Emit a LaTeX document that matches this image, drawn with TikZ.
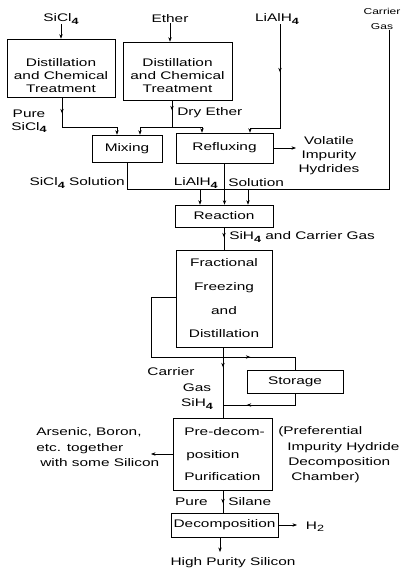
\documentclass[tikz,border=0pt]{standalone}
\usepackage{fontspec}
\setmainfont{Liberation Sans}[FakeStretch=1.4]
\usetikzlibrary{arrows.meta,decorations.markings}
\newcommand{\sfour}{\raisebox{-0.35ex}{\fontsize{9}{9}\selectfont\bfseries 4}}
\newcommand{\stwo}{\raisebox{-0.35ex}{\fontsize{9}{9}\selectfont 2}}
\begin{document}
\begin{tikzpicture}[x=1pt,y=-1pt,
  font=\fontsize{11}{13}\selectfont, line width=0.6pt,
  box/.style={draw, rectangle, inner sep=0pt},
  txt/.style={inner sep=0pt, align=center},
  arr/.style={-{Stealth[length=4.5pt,width=3.4pt]}},
  midarr/.style={postaction={decorate}, decoration={markings,
     mark=at position #1 with {\arrow{Stealth[length=4.5pt,width=3.4pt]}}}}]
\useasboundingbox (0,0) rectangle (413,576);

% top inputs
\node[txt] (sicl) at (61,19) {SiCl\sfour};
\node[txt] (ether) at (170,19) {Ether};
\node[txt] (lial) at (277,19) {LiAlH\sfour};
\node[txt, font=\fontsize{8.6}{15}\selectfont] (cgas) at (382,19) {Carrier\\Gas};

% boxes
\node[box, minimum width=108pt, minimum height=58pt] (b1) at (61,68) {};
\node[txt] (b1t) at (61,76) {Distillation\\and Chemical\\Treatment};
\node[box, minimum width=109pt, minimum height=58pt] (b2) at (177.5,71) {};
\node[txt] (b2t) at (177.5,76) {Distillation\\and Chemical\\Treatment};
\node[box, minimum width=70pt, minimum height=27pt] (mix) at (127,148.5) {Mixing};
\node[box, minimum width=97pt, minimum height=30pt] (refl) at (224.5,148) {Refluxing};
\node[box, minimum width=98pt, minimum height=22pt] (reac) at (224,216) {Reaction};
\node[box, minimum width=96pt, minimum height=97pt] (frac) at (224,298.5) {};
\node[txt, font=\fontsize{11}{23.7}\selectfont] (fract) at (224,298.5) {Fractional\\Freezing\\and\\Distillation};
\node[box, minimum width=96pt, minimum height=23pt] (stor) at (295,381.5) {Storage};
\node[box, minimum width=99pt, minimum height=72pt] (pre) at (222.5,454) {};
\node[txt, align=left, anchor=west, font=\fontsize{11}{22.5}\selectfont] (pret) at (184,454.5) {Pre-decom-\\\hspace{2pt}position\\Purification};
\node[box, minimum width=107pt, minimum height=24pt] (dec) at (224.5,525) {Decomposition};

% labels
\node[txt] (puresicl) at (29,121.5) {Pure\\SiCl\sfour};
\node[txt, anchor=west] (dry) at (177,113) {Dry Ether};
\node[txt, font=\fontsize{11}{14}\selectfont] (vol) at (329,156) {Volatile\\Impurity\\Hydrides};
\node[txt, anchor=east] (sols) at (125,183) {SiCl\sfour{} Solution};
\node[txt, anchor=east] (soll) at (218,183) {LiAlH\sfour};
\node[txt, anchor=west] (solr) at (228,183) {Solution};
\node[txt, anchor=west] (sih) at (229,237) {SiH\sfour{} and Carrier Gas};
\node[txt] (carr) at (171,372) {Carrier};
\node[txt] (gas) at (197,388) {Gas};
\node[txt] (sih2) at (197,404) {SiH\sfour};
\node[txt, align=left, anchor=west, font=\fontsize{11}{15.5}\selectfont] (ars) at (36,447.5) {Arsenic, Boron,\\etc. together\\\hspace{4pt}with some Silicon};
\node[txt, align=left, anchor=west, font=\fontsize{11}{15.3}\selectfont] (prefl) at (278,455) {(Preferential\\\hspace{9pt}Impurity Hydride\\\hspace{10pt}Decomposition\\\hspace{13pt}Chamber)};
\node[txt, anchor=east] (pure) at (208,502) {Pure};
\node[txt, anchor=west] (silane) at (228,502) {Silane};
\node[txt] (h2) at (315,527) {H\stwo};
\node[txt] (hps) at (233,563) {High Purity Silicon};

% coordinates
\coordinate (lc) at (280,128);
\coordinate (la) at (250,128);
\coordinate (cc) at (389,189);
\coordinate (cr2) at (248,189);
\coordinate (jl) at (200,189);
\coordinate (mc) at (127,189);
\coordinate (pc) at (62,127);
\coordinate (pm) at (117,127);
\coordinate (dc) at (172,127);
\coordinate (dl) at (140,127);
\coordinate (dr) at (202,127);
\coordinate (ve) at (296,148);
\coordinate (fl1) at (151,297);
\coordinate (fl2) at (151,357);
\coordinate (fl3) at (295,357);
\coordinate (vx) at (223,357);
\coordinate (sc) at (295,405);
\coordinate (se) at (223,405);
\coordinate (ae) at (151,454);
\coordinate (he) at (297,525);
\coordinate (hx) at (220,552);

% connectors
\draw[arr] (sicl.south) -- (b1.north);
\draw[arr] (ether.south) -- (ether.south |- b2.north);
\draw[arr, midarr=48pt] (lial.south -| lc) -- (lc) -- (la) -- (la |- refl.north);
\draw (cgas.south -| cc) -- (cc) -- (jl);
\draw[arr] (cr2) -- (cr2 |- reac.north);
\draw[arr, midarr=16pt] (b1.south -| pc) -- (pc) -- (pm) -- (pm |- mix.north);
\draw[midarr=10pt] (b2.south -| dc) -- (dc);
\draw[arr] (dc) -- (dl) -- (dl |- mix.north);
\draw[arr] (dc) -- (dr) -- (dr |- refl.north);
\draw[arr] (mix.south) -- (mc) -- (jl) -- (jl |- reac.north);
\draw[arr] (refl.south) -- (refl.south |- reac.north);
\draw[arr] (refl.east) -- (ve);
\draw[midarr=10pt] (reac.south) -- (reac.south |- frac.north);
\draw[midarr=184pt] (frac.west |- fl1) -- (fl1) -- (fl2) -- (fl3) -- (fl3 |- stor.north);
\draw[midarr=20pt] (frac.south -| vx) -- (vx |- pre.north);
\draw[midarr=60pt] (stor.south -| sc) -- (sc) -- (se);
\draw[arr] (pre.west) -- (ae);
\draw[midarr=13pt] (pre.south -| vx) -- (vx |- dec.north);
\draw[arr] (dec.east) -- (he);
\draw[arr] (dec.south -| hx) -- (hx);
\end{tikzpicture}
\end{document}
